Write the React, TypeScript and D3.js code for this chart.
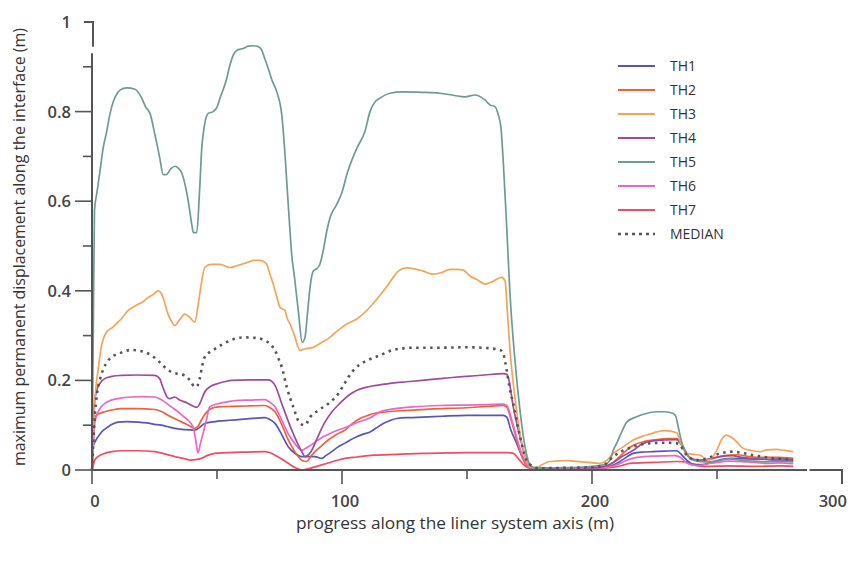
import React from "react";
import * as d3 from "d3";

type P = [number, number];

const seriesNames = ["TH1", "TH2", "TH3", "TH4", "TH5", "TH6", "TH7", "MEDIAN"];
const seriesColors = ["#5656b8", "#f0603c", "#f4a458", "#9e4c98", "#6f9a93", "#e868c6", "#ec4e62", "#555555"];

const xTicksMajor = [0, 100, 200, 300];
const xTicksMinor = [50, 150, 250];
const yTicksMajor = [0, 0.2, 0.4, 0.6, 0.8, 1];
const yTicksMinor = [0.1, 0.3, 0.5, 0.7, 0.9];

const TH1: P[] = [[0,0],[0.4,0.052],[1.2,0.063],[2.4,0.074],[4,0.086],[6.4,0.096],[8,0.102],[10.4,0.107],[14,0.108],[18.4,0.107],[22,0.105],[25,0.102],[27.7,0.1],[30,0.097],[33.1,0.093],[37,0.09],[41.1,0.089],[43,0.095],[45.1,0.104],[47.5,0.107],[50.4,0.109],[55,0.111],[62,0.114],[69.2,0.117],[71,0.113],[73.2,0.104],[76,0.078],[78.5,0.052],[81,0.038],[83.9,0.03],[89.2,0.03],[91.9,0.026],[93.5,0.032],[95.9,0.041],[98,0.05],[101.2,0.06],[103,0.066],[105.9,0.074],[108.5,0.08],[111.2,0.085],[113.5,0.093],[116.5,0.104],[119,0.11],[121.9,0.115],[127,0.117],[132.5,0.118],[140,0.12],[149.9,0.122],[157,0.122],[164.5,0.122],[165.9,0.118],[167.5,0.09],[169.9,0.059],[172,0.03],[174,0.01],[176,0.003],[185,0.003],[200,0.004],[206,0.006],[209,0.012],[212,0.022],[216.5,0.037],[220,0.04],[224.5,0.041],[229,0.042],[233.9,0.043],[235.5,0.036],[237.9,0.022],[240,0.014],[244,0.012],[248,0.018],[252,0.024],[256,0.026],[262,0.025],[268,0.024],[274,0.022],[280.5,0.02]];

const TH2: P[] = [[0,0],[0.5,0.06],[1.1,0.118],[3,0.126],[5.1,0.13],[8,0.134],[11.7,0.137],[18,0.137],[25.1,0.135],[28,0.13],[30.4,0.122],[34,0.112],[37.1,0.104],[39.5,0.097],[41.1,0.093],[42.5,0.098],[43.7,0.111],[45.5,0.127],[47.7,0.137],[50.4,0.141],[56,0.142],[63,0.143],[69.2,0.144],[71,0.14],[73.2,0.13],[76,0.1],[78.5,0.067],[81,0.042],[83.9,0.022],[85.9,0.019],[87.5,0.03],[89.2,0.041],[92,0.055],[94.5,0.067],[98,0.08],[101.2,0.089],[104,0.103],[107.2,0.115],[110,0.121],[112.5,0.126],[118,0.13],[125.9,0.133],[135,0.136],[149.9,0.139],[158,0.142],[164.5,0.144],[165.9,0.14],[168,0.105],[170,0.065],[172,0.03],[174.5,0.006],[178,0.003],[190,0.005],[205,0.006],[208,0.015],[212,0.035],[216.5,0.055],[221,0.064],[226,0.068],[230,0.07],[233.9,0.07],[235.5,0.058],[237.5,0.038],[240,0.025],[244,0.02],[248,0.025],[253,0.032],[258,0.034],[263,0.03],[268,0.028],[274,0.028],[280.5,0.026]];

const TH3: P[] = [[0,0],[0.8,0.12],[1.5,0.18],[2.4,0.222],[3.7,0.274],[5.7,0.307],[8.4,0.319],[10,0.328],[11.7,0.337],[14.4,0.356],[16,0.362],[18.4,0.37],[20,0.374],[22.4,0.385],[24.5,0.392],[26.4,0.4],[27.5,0.396],[28.4,0.385],[30.4,0.348],[32,0.33],[33.1,0.322],[35,0.335],[37.1,0.348],[39.1,0.341],[41.1,0.33],[42.5,0.37],[43.7,0.415],[45.1,0.452],[47.7,0.459],[51.2,0.459],[55.2,0.452],[58,0.456],[61.9,0.463],[65,0.468],[67.2,0.468],[69.9,0.459],[71,0.44],[72.5,0.415],[74,0.385],[75.2,0.363],[77.2,0.356],[78,0.34],[79.2,0.326],[81,0.3],[83.2,0.267],[85,0.27],[88.5,0.274],[92,0.285],[95.2,0.296],[98,0.31],[101.9,0.326],[105.9,0.337],[109.9,0.356],[113,0.375],[115.2,0.39],[118,0.41],[120.5,0.43],[122.5,0.444],[125.9,0.451],[129,0.449],[132.5,0.444],[136.5,0.437],[140,0.441],[143.2,0.448],[146,0.448],[148.5,0.446],[151.2,0.433],[154,0.425],[157.2,0.415],[160,0.42],[163.9,0.43],[165.2,0.422],[166.2,0.35],[167.2,0.267],[169,0.17],[171.2,0.081],[173,0.035],[175.2,0.007],[178,0.005],[180,0.012],[183.2,0.019],[189.9,0.021],[196,0.018],[203.2,0.015],[206,0.022],[208.5,0.037],[212,0.05],[216.5,0.067],[220,0.075],[223,0.08],[225.9,0.085],[229,0.088],[233.9,0.083],[235.5,0.06],[237.9,0.037],[243.2,0.033],[246.5,0.022],[249.9,0.044],[252,0.07],[253.9,0.078],[255.5,0.074],[257.9,0.063],[260,0.05],[263.2,0.044],[267.2,0.041],[270,0.045],[273.9,0.046],[277,0.044],[280.5,0.041]];

const TH4: P[] = [[0,0],[0.5,0.08],[1.1,0.156],[2,0.18],[3.1,0.193],[5.1,0.204],[8,0.209],[11.7,0.211],[18,0.212],[25.1,0.211],[27.1,0.204],[28,0.19],[29.1,0.174],[30,0.163],[31.1,0.159],[33.1,0.163],[35,0.156],[37.1,0.152],[39,0.147],[41.1,0.141],[42,0.14],[43.1,0.148],[45.1,0.174],[47.5,0.187],[50.4,0.193],[53,0.197],[55.9,0.2],[63,0.201],[70.5,0.201],[73.2,0.189],[75.9,0.148],[79.9,0.089],[83.9,0.041],[85.2,0.03],[87.5,0.04],[90,0.07],[93,0.105],[96,0.13],[99,0.148],[103,0.168],[106,0.178],[110,0.185],[115.2,0.19],[120,0.194],[125.9,0.197],[132,0.2],[139.2,0.204],[145,0.207],[149.9,0.209],[157,0.212],[164.5,0.215],[165.8,0.214],[166.5,0.207],[168.5,0.141],[171.2,0.074],[173,0.035],[175.2,0.007],[180,0.004],[190,0.005],[200,0.005],[205,0.008],[208,0.015],[212,0.03],[216.5,0.044],[220,0.058],[224.5,0.065],[229,0.067],[233.9,0.068],[235.5,0.06],[237.2,0.044],[239,0.028],[243,0.022],[247,0.025],[251,0.03],[256,0.032],[260,0.028],[265,0.025],[270,0.024],[275,0.025],[280.5,0.023]];

const TH5: P[] = [[0,0],[0.5,0.3],[1,0.58],[2,0.62],[3.2,0.667],[4.5,0.72],[5.9,0.756],[7,0.79],[8.5,0.822],[10,0.84],[11.2,0.848],[13.9,0.853],[17.2,0.85],[19.9,0.83],[21.5,0.81],[23.2,0.796],[25.2,0.748],[27,0.7],[28.5,0.659],[29.9,0.66],[31.5,0.672],[33.2,0.678],[34.5,0.674],[35.9,0.663],[37.5,0.63],[38.5,0.6],[40,0.545],[40.5,0.53],[41.9,0.53],[43,0.62],[43.9,0.718],[45,0.77],[46.5,0.796],[48.5,0.8],[50,0.81],[51.2,0.83],[53.9,0.874],[55,0.9],[56.5,0.926],[58,0.937],[60.5,0.941],[62.5,0.946],[64.5,0.947],[66.5,0.945],[67.9,0.937],[69,0.92],[70.5,0.896],[72,0.87],[73.9,0.844],[75.9,0.793],[77,0.72],[77.9,0.644],[79,0.55],[79.9,0.48],[81,0.43],[82.5,0.356],[84.1,0.285],[85.2,0.296],[86.2,0.35],[87.2,0.407],[88.5,0.444],[90,0.45],[91.2,0.46],[92.5,0.49],[93.9,0.533],[95.2,0.563],[97.9,0.593],[100,0.62],[101.9,0.659],[105.9,0.718],[109.2,0.756],[111.2,0.8],[113,0.82],[115.2,0.83],[119.2,0.841],[124.5,0.844],[132,0.843],[139.2,0.841],[145,0.836],[149.2,0.833],[153.2,0.837],[157.2,0.826],[159.2,0.815],[161.2,0.811],[162.5,0.793],[163.6,0.763],[164.5,0.689],[165.9,0.54],[167.2,0.393],[169.2,0.244],[171.2,0.133],[173.2,0.052],[175.2,0.011],[177.2,0.004],[185,0.005],[195,0.006],[205,0.012],[207.2,0.022],[208.5,0.044],[209.9,0.06],[211.9,0.085],[213.9,0.107],[217.9,0.119],[221,0.125],[225.9,0.13],[229,0.13],[232.5,0.126],[233.5,0.12],[234.5,0.096],[236,0.06],[237.9,0.035],[240.4,0.022],[245,0.018],[250,0.02],[255,0.025],[260,0.022],[265,0.02],[270,0.018],[275,0.02],[280.5,0.018]];

const TH6: P[] = [[0,0],[0.5,0.05],[1.1,0.104],[2.5,0.13],[3.7,0.141],[5.5,0.15],[7.7,0.156],[11,0.16],[15.7,0.163],[20,0.164],[25.1,0.163],[27,0.159],[29.1,0.152],[31.5,0.142],[34.4,0.13],[36.5,0.12],[38.4,0.111],[40.4,0.096],[41.4,0.07],[42.4,0.038],[43.4,0.06],[44.4,0.081],[45.7,0.11],[47.1,0.141],[50.4,0.148],[55,0.153],[62,0.156],[69.2,0.157],[71,0.152],[73.2,0.141],[76,0.11],[78.5,0.081],[81,0.06],[83.9,0.044],[86.5,0.052],[89.2,0.062],[92.5,0.074],[97,0.086],[101.9,0.096],[106,0.106],[111.2,0.116],[115.2,0.13],[120,0.136],[128.5,0.141],[139.2,0.144],[149.9,0.145],[158,0.146],[164.5,0.147],[165.9,0.144],[168,0.11],[170,0.07],[172,0.035],[174.5,0.008],[178,0.003],[190,0.004],[205,0.005],[210,0.012],[214,0.022],[218,0.028],[225,0.031],[233,0.032],[235.5,0.028],[238,0.015],[242,0.01],[248,0.015],[255,0.02],[262,0.018],[270,0.015],[275,0.016],[280.5,0.014]];

const TH7: P[] = [[0,0],[0.5,0.01],[1.1,0.022],[3,0.032],[5.1,0.037],[8,0.041],[11.7,0.043],[18,0.043],[25.1,0.041],[29,0.036],[33.1,0.03],[36.5,0.026],[39.7,0.022],[41.5,0.023],[43.7,0.026],[46,0.032],[49.1,0.037],[55,0.039],[62,0.04],[69.2,0.041],[71,0.039],[73.2,0.033],[76,0.024],[78.5,0.015],[81,0.006],[83.9,0],[86,0.002],[89.2,0.007],[93,0.013],[97,0.02],[101.2,0.026],[106,0.029],[112.5,0.033],[122,0.035],[132.5,0.037],[149.9,0.039],[160,0.039],[166,0.039],[168.5,0.037],[171,0.022],[173,0.01],[175.2,0.004],[185,0.003],[200,0.004],[208,0.006],[212,0.01],[215.2,0.015],[225,0.017],[234,0.019],[237.9,0.018],[240,0.012],[245,0.008],[255,0.009],[265,0.008],[275,0.009],[280.5,0.008]];

const MEDIAN: P[] = [[0,0],[0.5,0.06],[1.1,0.118],[2,0.17],[3.1,0.2],[4.5,0.225],[6.4,0.244],[8,0.253],[10.4,0.259],[13,0.265],[15.7,0.268],[18,0.267],[21.1,0.263],[24,0.255],[26.4,0.244],[29,0.23],[31.7,0.219],[34,0.215],[37.1,0.211],[39.5,0.198],[41.1,0.185],[42.1,0.188],[43.1,0.204],[44,0.23],[45.1,0.252],[47,0.263],[49.1,0.27],[52,0.28],[54.5,0.287],[57.2,0.293],[61,0.296],[65.2,0.295],[67.5,0.293],[69.2,0.289],[71.5,0.28],[73.2,0.267],[74.5,0.25],[75.9,0.23],[77.9,0.185],[80.5,0.141],[83.2,0.104],[85.2,0.1],[87.2,0.118],[90.5,0.133],[94.5,0.148],[98.5,0.17],[101.2,0.195],[104.5,0.222],[107,0.235],[109.9,0.244],[115.2,0.256],[120.5,0.268],[128.5,0.273],[139.2,0.273],[149.9,0.274],[156,0.273],[163.2,0.268],[164.5,0.26],[165.2,0.244],[165.9,0.222],[167,0.185],[168.5,0.148],[171.2,0.074],[174.5,0.015],[179.2,0.004],[190,0.005],[200,0.006],[205,0.012],[208.5,0.03],[212,0.042],[216.5,0.052],[221.9,0.059],[229.9,0.061],[233.5,0.06],[235.2,0.056],[237,0.04],[239.2,0.026],[243.2,0.022],[247,0.028],[251.2,0.037],[256.5,0.041],[260,0.038],[264.5,0.033],[268,0.03],[272.5,0.026],[276,0.025],[280.4,0.022]];

const seriesData: P[][] = [TH1, TH2, TH3, TH4, TH5, TH6, TH7, MEDIAN];
const drawOrder = [6, 0, 1, 5, 3, 2, 4, 7];

export default function App() {
  const W = 860, H = 561;
  const x = d3.scaleLinear().domain([0, 300]).range([92, 842]);
  const y = d3.scaleLinear().domain([0, 1]).range([470, 22]);
  const line = d3.line<P>().x(d => x(d[0])).y(d => y(d[1])).curve(d3.curveMonotoneX);
  const axisColor = "#555";
  const font = "'Open Sans', 'Liberation Sans', sans-serif";
  const legendX = 618, legendY0 = 66, legendStep = 24;

  return (
    <svg width={W} height={H} style={{ position: "absolute", left: 0, top: 0, background: "#fff" }} fontFamily={font}>
      <rect x={0} y={0} width={W} height={H} fill="#fff" />
      {drawOrder.map(i => (
        <path key={seriesNames[i]} d={line(seriesData[i]) || ""} fill="none"
          stroke={seriesColors[i]}
          strokeWidth={i === 7 ? 2.6 : 1.7}
          strokeDasharray={i === 7 ? "2.5,4.5" : undefined}
          strokeLinejoin="round" />
      ))}
      {/* y axis */}
      <line x1={x(0)} x2={x(0)} y1={y(0)} y2={y(0.93)} stroke={axisColor} strokeWidth={2} />
      <path d={`M${x(0) - 8},${y(1)} H${x(0) + 1} V${y(0.945)}`} fill="none" stroke={axisColor} strokeWidth={2} />
      {yTicksMajor.filter(t => t < 1).map(t => (
        <line key={"ym" + t} x1={x(0) - 17} x2={x(0)} y1={y(t)} y2={y(t)} stroke={axisColor} strokeWidth={1.6} />
      ))}
      {yTicksMinor.map(t => (
        <line key={"yn" + t} x1={x(0) - 9} x2={x(0)} y1={y(t)} y2={y(t)} stroke={axisColor} strokeWidth={1.6} />
      ))}
      {yTicksMajor.map(t => (
        <text key={"yl" + t} x={71} y={y(t) + 6} textAnchor="end" fontSize={16.5} fontWeight={600} fill="#444">{t === 0 || t === 1 ? String(t) : t.toFixed(1)}</text>
      ))}
      {/* x axis */}
      <line x1={x(0)} x2={x(286)} y1={y(0)} y2={y(0)} stroke={axisColor} strokeWidth={2} />
      <path d={`M${x(287)},${y(0)} H${x(300)} V${y(0) + 14}`} fill="none" stroke={axisColor} strokeWidth={2} />
      {xTicksMajor.filter(t => t < 300).map(t => (
        <line key={"xm" + t} x1={x(t)} x2={x(t)} y1={y(0)} y2={y(0) + 14} stroke={axisColor} strokeWidth={1.6} />
      ))}
      {xTicksMinor.map(t => (
        <line key={"xn" + t} x1={x(t)} x2={x(t)} y1={y(0)} y2={y(0) + 9} stroke={axisColor} strokeWidth={1.6} />
      ))}
      {xTicksMajor.map(t => (
        <text key={"xl" + t} x={t === 300 ? x(t) + 5 : x(t) + 3} y={507}
          textAnchor={t === 300 ? "end" : "middle"} fontSize={16.5} fontWeight={600} fill="#444">{t}</text>
      ))}
      {/* axis titles */}
      <text x={455} y={529} textAnchor="middle" fontSize={16} fill="#333" textLength={318} lengthAdjust="spacingAndGlyphs">progress along the liner system axis (m)</text>
      <text transform={`translate(25,247) rotate(-90)`} textAnchor="middle" fontSize={16} fill="#333" textLength={438} lengthAdjust="spacingAndGlyphs">maximum permanent displacement along the interface (m)</text>
      {/* legend */}
      {seriesNames.map((n, i) => (
        <g key={"lg" + n}>
          <line x1={legendX} x2={legendX + 37} y1={legendY0 + i * legendStep} y2={legendY0 + i * legendStep}
            stroke={seriesColors[i]} strokeWidth={i === 7 ? 2.4 : 2}
            strokeDasharray={i === 7 ? "3,4" : undefined} />
          <text x={legendX + 52} y={legendY0 + i * legendStep + 5} fontSize={14} fill="#333">{n}</text>
        </g>
      ))}
    </svg>
  );
}
